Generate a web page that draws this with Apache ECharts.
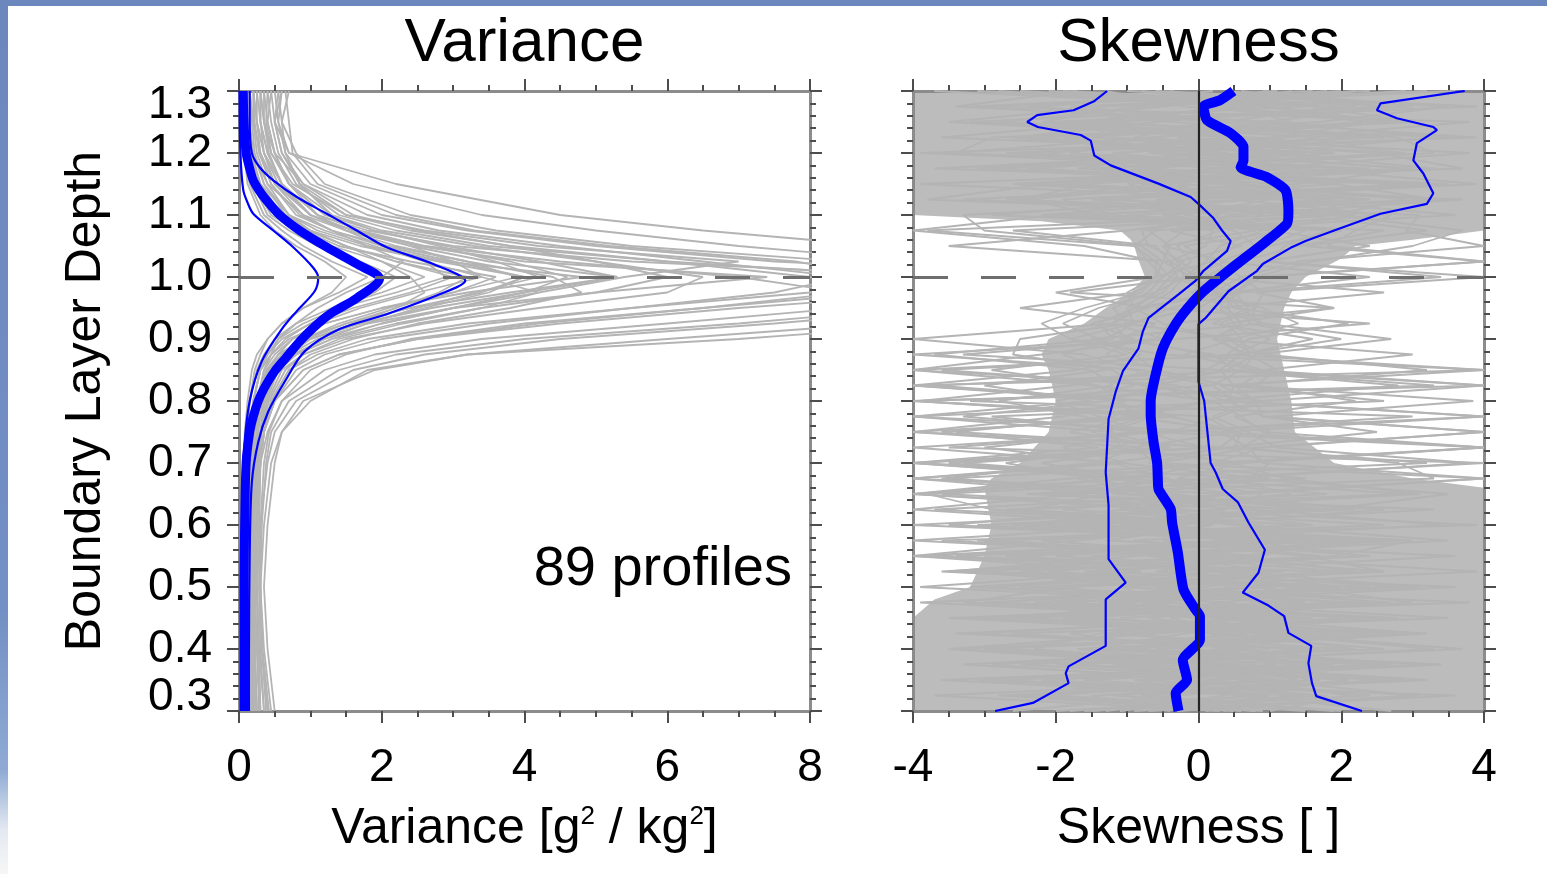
<!DOCTYPE html>
<html>
<head>
<meta charset="utf-8">
<title>Variance and skewness profiles</title>
<script src="https://cdn.jsdelivr.net/npm/echarts@6/dist/echarts.min.js"></script>
<style>
  html, body { margin: 0; padding: 0; width: 1547px; height: 874px; overflow: hidden; }
  body { position: relative; background: linear-gradient(to bottom, #6b87bd 0%, #7390c4 70%, #8eaad4 88%, #e4e9f1 95%, #f6f6f6 100%); }
  #paper { position: absolute; left: 8px; top: 6px; right: 0; bottom: 0; background: #fff; }
  #chart { position: absolute; left: 0; top: 0; width: 1547px; height: 874px; }
</style>
</head>
<body>
<div id="paper"></div>
<div id="chart"></div>
<script>
// ---- Variance panel ----
// gray profiles, sampled at these depths (z / zi)
const varDepth = [1.30, 1.25, 1.20, 1.15, 1.10, 1.075, 1.05, 1.025, 1.00, 0.975, 0.95,
                  0.925, 0.90, 0.875, 0.85, 0.80, 0.75, 0.70, 0.60, 0.50, 0.40, 0.30];
const varGrayProfiles = [
  [0.05, 0.05, 0.08, 0.15, 0.35, 0.6, 0.9, 1.3, 1.8, 1.4, 0.9, 0.6, 0.4, 0.3, 0.22, 0.15, 0.12, 0.1, 0.08, 0.08, 0.07, 0.07],
  [0.1, 0.12, 0.2, 0.4, 0.9, 1.5, 2.4, 3.5, 5.3, 3.8, 2.4, 1.5, 0.9, 0.6, 0.4, 0.25, 0.18, 0.15, 0.12, 0.1, 0.1, 0.1],
  [0.6, 0.5, 0.7, 1.6, 3.4, 5.0, 7.0, 9.5, 11, 9.0, 6.5, 4.0, 2.4, 1.5, 1.0, 0.6, 0.4, 0.3, 0.25, 0.2, 0.2, 0.2],
  [0.3, 0.35, 0.5, 0.9, 1.8, 2.8, 4.5, 6.5, 8.5, 7.5, 5.5, 3.5, 2.0, 1.2, 0.8, 0.5, 0.35, 0.3, 0.25, 0.22, 0.2, 0.2],
  [0.2, 0.2, 0.3, 0.5, 1.0, 1.6, 2.5, 4.0, 7.4, 5.0, 3.0, 1.8, 1.1, 0.7, 0.5, 0.35, 0.3, 0.25, 0.2, 0.2, 0.18, 0.18],
  [0.15, 0.2, 0.25, 0.4, 0.7, 1.0, 1.5, 2.2, 3.0, 2.4, 1.6, 1.0, 0.6, 0.4, 0.3, 0.2, 0.18, 0.15, 0.15, 0.13, 0.12, 0.12],
  [0.05, 0.06, 0.1, 0.2, 0.45, 0.8, 1.3, 2.0, 2.6, 2.0, 1.3, 0.8, 0.5, 0.35, 0.25, 0.15, 0.1, 0.08, 0.06, 0.05, 0.05, 0.05],
  [0.4, 0.45, 0.55, 0.8, 1.4, 2.2, 3.5, 6.0, 9.5, 12, 10, 7.5, 4.5, 2.6, 1.6, 0.8, 0.5, 0.4, 0.3, 0.28, 0.3, 0.35],
  [0.25, 0.3, 0.4, 0.6, 1.1, 1.8, 3.0, 5.5, 10, 13, 11, 9, 6, 3.2, 1.9, 0.9, 0.6, 0.45, 0.35, 0.3, 0.32, 0.4],
  [0.35, 0.4, 0.5, 0.7, 1.2, 1.9, 2.9, 4.2, 5.3, 4.0, 2.7, 1.7, 1.0, 0.7, 0.5, 0.35, 0.3, 0.28, 0.25, 0.25, 0.28, 0.3],
  [0.1, 0.1, 0.15, 0.3, 0.6, 1.0, 1.7, 2.8, 4.0, 3.5, 2.6, 1.7, 1.0, 0.6, 0.4, 0.25, 0.2, 0.15, 0.12, 0.12, 0.12, 0.12],
  [0.7, 0.6, 0.8, 1.2, 2.4, 3.6, 5.5, 8.5, 10, 8.0, 5.5, 3.2, 1.8, 1.1, 0.7, 0.45, 0.35, 0.3, 0.28, 0.3, 0.35, 0.45],
  [0.45, 0.5, 0.6, 0.9, 1.6, 2.5, 3.8, 5.0, 6.5, 6.0, 4.2, 2.6, 1.5, 0.9, 0.6, 0.4, 0.3, 0.25, 0.2, 0.2, 0.22, 0.25],
  [0.2, 0.25, 0.35, 0.6, 1.1, 1.7, 2.6, 3.8, 4.6, 4.0, 3.0, 2.0, 1.3, 0.8, 0.55, 0.35, 0.25, 0.2, 0.18, 0.16, 0.15, 0.15],
  [0.08, 0.1, 0.12, 0.25, 0.5, 0.9, 1.4, 2.4, 3.6, 3.0, 2.0, 1.2, 0.7, 0.45, 0.3, 0.2, 0.15, 0.12, 0.1, 0.1, 0.1, 0.1],
  [0.5, 0.55, 0.65, 1.0, 2.0, 3.2, 5.0, 7.5, 12, 14, 12, 10, 7, 3.2, 1.8, 1.0, 0.6, 0.5, 0.4, 0.35, 0.4, 0.5],
  [0.3, 0.3, 0.4, 0.6, 1.0, 1.5, 2.2, 3.2, 4.4, 4.8, 3.8, 2.5, 1.6, 1.0, 0.7, 0.45, 0.35, 0.3, 0.28, 0.26, 0.25, 0.28],
  [0.15, 0.15, 0.2, 0.35, 0.7, 1.1, 1.8, 2.9, 4.8, 3.2, 2.0, 1.2, 0.75, 0.5, 0.35, 0.25, 0.2, 0.18, 0.15, 0.14, 0.14, 0.14],
  [0.25, 0.25, 0.35, 0.55, 1.0, 1.6, 2.6, 4.5, 7.0, 8.5, 6.5, 4.2, 2.5, 1.4, 0.9, 0.5, 0.35, 0.3, 0.25, 0.22, 0.22, 0.25],
  [0.55, 0.5, 0.6, 0.85, 1.5, 2.4, 3.8, 6.0, 8.0, 9.5, 8.5, 6.0, 3.4, 1.9, 1.2, 0.6, 0.42, 0.35, 0.3, 0.3, 0.32, 0.38],
  [0.12, 0.12, 0.18, 0.3, 0.6, 0.95, 1.5, 2.2, 3.2, 2.8, 2.2, 1.5, 0.9, 0.55, 0.38, 0.25, 0.2, 0.17, 0.15, 0.14, 0.13, 0.13],
  [0.4, 0.38, 0.45, 0.7, 1.3, 2.0, 3.3, 5.0, 6.0, 5.0, 3.4, 2.2, 1.3, 0.8, 0.55, 0.38, 0.3, 0.27, 0.24, 0.22, 0.22, 0.24],
  [0.05, 0.05, 0.07, 0.12, 0.3, 0.5, 0.8, 1.2, 1.5, 1.3, 0.9, 0.6, 0.4, 0.25, 0.18, 0.12, 0.08, 0.07, 0.06, 0.06, 0.06, 0.06],
  [0.65, 0.7, 0.75, 1.1, 2.2, 3.3, 5.2, 7.8, 9.0, 10.5, 9.5, 7.0, 4.0, 2.2, 1.4, 0.7, 0.45, 0.38, 0.32, 0.3, 0.33, 0.42],
  [0.3, 0.35, 0.45, 0.75, 1.5, 2.6, 4.2, 7.0, 5.4, 4.2, 3.0, 2.0, 1.2, 0.75, 0.5, 0.33, 0.27, 0.24, 0.22, 0.2, 0.2, 0.22],
  [0.2, 0.22, 0.28, 0.45, 0.85, 1.3, 2.0, 3.0, 4.0, 3.4, 2.4, 1.5, 0.95, 0.6, 0.42, 0.28, 0.22, 0.2, 0.18, 0.17, 0.17, 0.18],
  [0.6, 0.55, 0.7, 2.2, 4.5, 6.5, 9.0, 11, 12, 10, 7.0, 4.5, 2.5, 1.4, 0.9, 0.5, 0.35, 0.3, 0.25, 0.22, 0.25, 0.3],
  [0.1, 0.1, 0.15, 0.3, 0.7, 1.2, 1.9, 2.6, 2.9, 2.2, 1.4, 0.9, 0.55, 0.4, 0.3, 0.2, 0.15, 0.12, 0.1, 0.1, 0.1, 0.1],
  [0.3, 0.3, 0.35, 0.5, 0.9, 1.3, 1.8, 2.3, 2.0, 1.5, 1.1, 0.8, 0.55, 0.45, 0.35, 0.28, 0.25, 0.22, 0.2, 0.2, 0.2, 0.2],
  [0.2, 0.25, 0.3, 0.45, 0.8, 1.3, 2.1, 3.2, 3.9, 3.0, 2.1, 1.4, 0.9, 0.6, 0.45, 0.3, 0.25, 0.2, 0.18, 0.18, 0.18, 0.2],
  [0.45, 0.4, 0.5, 0.7, 1.1, 1.5, 2.0, 2.6, 3.4, 4.2, 3.4, 2.3, 1.4, 0.9, 0.65, 0.42, 0.32, 0.28, 0.25, 0.25, 0.27, 0.3],
  [0.08, 0.08, 0.1, 0.2, 0.4, 0.7, 1.1, 1.7, 2.2, 1.9, 1.4, 1.0, 0.65, 0.45, 0.3, 0.2, 0.14, 0.11, 0.1, 0.09, 0.09, 0.09],
  [0.55, 0.6, 0.65, 0.85, 1.3, 1.9, 2.8, 3.6, 4.2, 3.3, 2.5, 1.8, 1.2, 0.8, 0.55, 0.38, 0.3, 0.26, 0.24, 0.25, 0.28, 0.35],
  [0.15, 0.18, 0.22, 0.35, 0.65, 1.0, 1.5, 2.0, 2.4, 2.6, 2.2, 1.6, 1.0, 0.65, 0.45, 0.3, 0.22, 0.18, 0.15, 0.14, 0.14, 0.15],
  [0.35, 0.35, 0.42, 0.6, 1.0, 1.6, 2.4, 3.0, 3.4, 2.5, 1.7, 1.1, 0.75, 0.55, 0.42, 0.3, 0.25, 0.22, 0.2, 0.2, 0.22, 0.25]
];

// blue curves: mean (thick) and spread (thin)
const varMeanDepth = [1.30, 1.25, 1.20, 1.175, 1.156, 1.14, 1.123, 1.10, 1.075, 1.048, 1.021, 0.997, 0.966,
                      0.94, 0.918, 0.896, 0.87, 0.848, 0.82, 0.80, 0.775, 0.75, 0.70, 0.60, 0.50, 0.40, 0.30];
const varMean = [0.06, 0.07, 0.10, 0.15, 0.2, 0.28, 0.39, 0.57, 0.85, 1.23, 1.65, 1.97, 1.65,
                 1.27, 1.04, 0.85, 0.66, 0.5, 0.35, 0.27, 0.2, 0.15, 0.1, 0.08, 0.07, 0.07, 0.07];
const varHighDepth = [1.30, 1.25, 1.20, 1.177, 1.156, 1.129, 1.102, 1.075, 1.048, 1.021, 0.994,
                      0.972, 0.94, 0.916, 0.88, 0.831, 0.783, 0.734, 0.669, 0.556, 0.40, 0.30];
const varHigh = [0.15, 0.15, 0.18, 0.29, 0.48, 0.81, 1.23, 1.65, 2.07, 2.72, 3.17,
                 2.81, 2.07, 1.41, 0.92, 0.64, 0.41, 0.27, 0.18, 0.15, 0.14, 0.14];
const varLowDepth = [1.30, 1.20, 1.14, 1.12, 1.102, 1.075, 1.048, 1.015, 0.999, 0.977, 0.945,
                     0.916, 0.864, 0.80, 0.718, 0.60, 0.45, 0.30];
const varLow = [0.01, 0.02, 0.06, 0.12, 0.2, 0.48, 0.76, 1.04, 1.11, 1.06, 0.81,
                0.6, 0.32, 0.15, 0.07, 0.04, 0.03, 0.03];

// ---- Skewness panel ----
// dense gray band (where the 89 profiles overlap into a solid mass)
const skEnvDepth = [1.30, 1.10, 1.09, 1.075, 1.06, 1.05, 1.03, 1.00, 0.975, 0.95, 0.925, 0.90, 0.875,
                    0.85, 0.80, 0.75, 0.70, 0.675, 0.66, 0.60, 0.55, 0.50, 0.48, 0.45, 0.30];
const skEnvLeft = [-4, -4, -2.2, -1.1, -0.95, -0.9, -0.85, -0.75, -0.95, -1.3, -1.6, -2.1, -2.2,
                   -2.1, -2.0, -2.1, -2.5, -2.9, -3.0, -2.9, -3.0, -3.2, -3.7, -4, -4];
const skEnvRight = [4, 4, 4, 4, 3.0, 2.2, 2.0, 1.5, 1.3, 1.2, 1.15, 1.1, 1.15,
                    1.2, 1.3, 1.35, 1.9, 3.0, 4, 4, 4, 4, 4, 4, 4];

// individual gray profiles reaching out of the band
const skDepth = [1.30, 1.275, 1.25, 1.225, 1.20, 1.175, 1.15, 1.125, 1.10, 1.075,
                 1.05, 1.025, 1.00, 0.975, 0.95, 0.925, 0.90, 0.875, 0.85, 0.825,
                 0.80, 0.775, 0.75, 0.725, 0.70, 0.675, 0.65, 0.625, 0.60, 0.575,
                 0.55, 0.525, 0.50, 0.475, 0.45, 0.425, 0.40, 0.375, 0.35, 0.325, 0.30];
const skGrayProfiles = [
  [-2.5, 1.5, -3.2, 0.8, 2.9, -1.4, 3.5, -0.6, 1.2, -3.8,
   -0.9, -0.6, -0.4, 0.3, -0.8, -1.2, -0.5, -2.2, -4.0, -1.5,
   0.2, -0.9, -1.8, -0.4, -3.5, -1.2, 0.5, -1.9, 1.4, -3.1,
   0.9, -0.6, 2.8, -2.0, 0.3, 3.1, -1.4, 1.8, -3.6, 0.7, -1.1],
  [3.2, -1.8, 0.6, 3.9, -2.7, 1.1, -0.3, 2.4, -1.6, 1.8,
   1.2, 1.0, 3.4, 0.6, 0.2, 0.9, 2.7, 0.8, 0.4, -0.6,
   0.1, -1.0, 0.6, 0.3, -0.7, 1.5, -2.4, 3.3, -0.8, 2.1,
   -3.4, 1.2, -1.1, 3.8, -2.6, 0.4, 2.2, -1.7, 0.9, 3.0, -0.3],
  [0.4, 2.6, -1.1, -3.6, 1.9, 0.2, -2.3, 3.7, 0.5, -0.8,
   -0.7, -0.2, -0.5, -0.9, -2.5, -0.6, -1.1, 0.2, 0.5, 4.0,
   0.9, 0.3, -0.4, -1.2, 0.6, -0.3, 2.9, -2.7, 0.2, -1.3,
   3.6, -0.4, 1.0, -3.9, 0.6, -1.8, -0.2, 2.5, -2.2, 1.3, 0.1],
  [-1.0, 3.5, 1.7, -2.2, -0.4, 3.0, 1.4, -3.3, 2.2, 0.9,
   0.3, 0.1, -0.2, -0.4, -0.8, -1.2, -4.0, -1.6, -0.9, -0.4,
   -1.3, -3.3, -0.6, 4.0, 0.2, -1.7, -0.6, 1.6, -2.4, 2.7,
   -0.9, -3.5, 1.9, 0.4, -1.5, 2.3, -3.0, 0.5, 1.6, -0.8, 2.0],
  [1.8, -0.5, -2.8, 2.1, 0.7, -3.7, 2.8, 0.0, -2.9, 2.6,
   1.4, 0.6, 0.2, -0.1, 0.4, 0.6, 0.2, 3.0, 0.9, 0.6,
   3.85, 1.0, 4.0, 0.8, -0.6, 0.3, -3.6, 0.8, 3.4, -0.9,
   1.5, 2.6, -1.9, -0.5, 3.5, -2.6, 0.8, -3.3, 0.4, -2.0, 1.5],
  [-3.7, 0.9, 2.3, -0.7, -1.8, 1.6, -3.9, 1.1, 3.6, -0.2,
   -0.5, -0.3, -0.2, -0.6, -1.4, -1.9, -1.4, -0.8, -1.7, -4.0,
   -1.0, -1.9, -4.0, -0.8, -1.5, -3.6, -0.9, 0.4, -1.0, 1.9,
   -2.5, 0.3, -3.2, 1.4, -0.7, 0.9, 3.7, -1.2, -0.3, 2.4, -1.6],
  [2.4, -3.0, 3.8, 1.2, -1.1, -2.2, 0.6, 2.9, 1.9, 3.7,
   3.0, 1.6, 0.8, 0.3, 0.5, 2.1, 0.7, 0.4, 4.0, 0.3,
   0.8, 0.2, 0.7, 1.1, 3.8, 0.4, 1.3, -1.1, 2.6, -2.8,
   0.2, 3.9, -0.6, 2.0, -2.9, 1.6, -1.3, 3.4, -0.9, 0.6, 2.7],
  [0.2, -2.2, -0.4, 2.8, 3.3, -0.9, -1.5, -2.5, 0.7, -1.0,
   -3.5, -0.4, -0.3, -0.5, -1.0, -0.9, -1.3, -3.7, -1.5, -1.2,
   -2.8, -1.6, -0.9, -3.0, -1.2, -0.4, -1.6, -4.0, -0.5, 0.8,
   -3.8, 1.7, 0.1, -2.8, 2.3, -0.6, -3.5, -0.2, 3.2, -1.5, -0.4],
  [-0.6, 3.9, -1.6, -1.2, 2.5, 3.7, -2.6, 1.9, -0.5, 0.5,
   0.8, 0.5, 0.1, 2.6, 0.3, 0.5, 0.4, 0.8, 0.6, 0.2,
   0.5, 4.0, 0.3, 0.7, 0.9, 4.0, 0.2, 2.2, -3.1, 0.6,
   2.3, -1.5, 3.6, -0.8, 1.2, -3.4, 1.4, -0.7, 2.9, -2.7, 0.8],
  [1.3, 0.1, 3.0, -2.9, -3.4, 0.4, 2.0, -1.9, -1.2, 1.2,
   -0.2, 0.2, -0.6, -2.0, -0.7, -1.5, -0.9, -1.3, -0.5, -1.8,
   -3.9, -0.7, -1.5, -0.6, -2.2, -1.0, -4.0, -0.5, 3.9, -3.6,
   0.7, -2.1, 1.3, 3.0, -1.1, 0.1, 2.6, -2.5, 1.1, -3.7, 0.3],
  [-2.1, 2.0, 0.3, -1.5, 1.5, -2.9, 3.2, -1.3, 2.7, 2.2,
   1.8, 4.0, 0.9, 0.5, 0.7, 0.2, 1.6, 0.6, 0.3, 2.8,
   0.2, 0.6, 0.9, 4.0, 0.5, 1.2, 3.1, -1.0, 0.5, 3.5,
   -0.7, 2.0, -2.3, 1.1, -3.2, 2.8, -0.6, 1.9, -3.1, 3.6, -0.7],
  [3.6, -1.3, -3.5, 0.5, -2.5, 2.4, -0.8, 0.6, -3.3, -3.0,
   -0.8, -0.5, -0.6, -0.8, -1.6, -2.2, -1.8, -1.0, -2.9, -1.4,
   -1.1, -0.9, -3.6, -1.4, -4.0, -0.8, -1.7, -0.3, -2.6, 1.0,
   -1.4, -3.0, 2.4, -1.2, 0.9, -3.1, 1.7, -2.0, 2.1, -0.3, -2.6],
  [0.9, 3.0, -2.1, 1.7, -0.1, -1.7, 1.9, 3.3, -1.9, 1.0,
   2.4, 0.9, 4.0, 0.8, 1.9, 0.4, 0.6, 0.7, 1.1, 0.8,
   2.2, 0.5, 1.0, 0.6, 2.8, 3.3, -2.2, 1.4, -1.6, 2.4,
   0.6, -3.4, 1.8, -1.9, 2.6, -0.8, 0.5, 2.7, -1.6, 1.8, -2.0],
  [-1.7, -3.4, 1.1, 3.3, 0.9, -0.6, -2.1, -3.8, 1.8, -0.6,
   -0.9, -0.7, -0.5, -0.7, -1.2, -1.0, -2.5, -2.6, -1.2, -0.9,
   -2.0, -1.4, -0.8, -1.9, -1.0, -4.0, -1.3, -2.4, 0.2, -1.7,
   -4.0, -0.8, -3.9, 0.5, -2.4, 1.9, -1.0, 3.3, -2.9, 0.9, -1.8],
  [-3.1, 1.0, 2.7, -0.3, 3.8, 0.8, -0.5, -2.7, 3.1, 2.9,
   4.0, 1.4, 0.6, 0.2, 0.9, 1.4, 0.5, 0.9, 3.2, 0.5,
   0.8, 0.9, 2.5, 0.4, 1.0, 0.7, 3.5, 1.8, -1.9, 3.0,
   1.9, -2.5, 0.8, 2.4, -3.5, 0.8, 3.3, -1.1, 0.6, 2.1, 1.0],
  [2.0, -0.8, -1.4, 2.6, -3.9, 1.4, 3.9, -0.4, -2.0, -4.0,
   -1.6, -0.6, -0.6, -1.0, -0.9, -1.4, -1.2, -1.9, -1.3, -3.0,
   -1.5, -4.0, -1.2, -1.1, -2.7, -1.5, -0.4, -1.0, -3.5, 1.4,
   -0.3, 2.6, -1.8, -3.3, 1.6, -1.4, -2.3, 0.2, 1.4, -2.8, 0.5],
  [1.1, -2.4, 0.3, 2.2, -1.2, 0.9, -2.6, 1.7, -0.4, 0.8,
   -0.5, 0.4, -0.2, 0.1, -0.6, 2.4, -0.3, -4.0, -0.8, 0.2,
   -3.2, 3.0, -0.5, -4.0, -1.1, 0.9, -2.2, 1.3, -0.8, 2.9,
   -1.5, 0.4, 3.1, -2.0, 0.7, -1.3, 2.0, -0.9, 1.2, -2.4, 0.6],
  [-0.8, 1.6, 3.0, -1.9, 0.4, -3.1, 1.2, 0.5, 2.6, -0.4,
   0.6, -0.3, 0.2, 0.6, -0.4, -0.9, -1.8, -0.5, 4.0, -4.0,
   -0.7, -1.2, -3.4, 0.3, -4.0, -1.0, 1.8, -2.6, 0.9, -0.5,
   2.4, -3.3, -0.4, 1.5, -1.8, 3.2, -0.6, 0.8, -2.1, 1.0, -0.3],
  [2.9, -0.9, -2.2, 0.6, 1.9, -1.5, 0.2, 3.4, -1.0, 2.0,
   1.0, 0.6, 0.4, 0.2, 0.8, 0.3, 1.0, 0.5, 0.1, -0.8,
   0.9, -4.0, 0.2, 4.0, 0.6, -3.5, -0.3, 0.9, -1.4, 2.2,
   -0.6, 1.1, -2.9, 0.3, 2.0, -1.0, -2.7, 1.4, 0.2, -1.2, 1.9],
  [-2.8, 0.5, 1.3, -0.6, -3.5, 2.1, -1.0, -0.2, 0.9, 0.3,
   -0.3, -0.1, -0.4, -0.6, -0.9, -0.5, 0.3, 0.6, -3.6, -0.6,
   -1.3, -0.3, -4.0, 0.4, 3.2, -1.8, -4.0, -0.2, 1.6, -2.2,
   0.5, 2.2, -1.1, -0.4, -2.6, 1.2, 0.3, -1.8, 2.6, -0.7, 0.4],
  [0.6, 2.2, -0.6, -2.6, 0.1, 2.9, -1.7, 1.0, -0.2, 1.5,
   0.9, 0.3, 2.4, 0.4, 0.0, -1.0, 0.5, -0.2, 0.8, 4.0,
   -4.0, 0.1, 0.5, -0.9, -0.6, 4.0, 0.6, -3.7, 0.8, -0.4,
   1.7, -1.6, 0.6, -2.3, 1.3, -0.2, -1.5, 2.3, -0.6, 0.4, -1.3],
  [-1.3, -0.2, 2.5, 1.0, -2.1, -0.7, 3.1, -1.5, 0.3, -0.7,
   -0.4, -0.5, -0.1, 0.3, 0.6, 0.9, -1.5, -0.9, -0.6, 0.4,
   2.6, -2.9, -0.8, 0.1, -3.3, -0.5, 0.9, 0.3, -4.0, 1.3,
   -2.0, 0.7, 1.1, -3.0, 0.2, 2.4, -1.7, 0.6, -0.8, 3.1, -0.9],
  [1.6, -3.2, 0.2, -0.9, 2.7, 0.4, -1.9, 2.3, 1.4, 3.2,
   1.5, 4.0, 0.8, 0.5, 0.4, 0.6, 0.2, 0.7, -4.0, -0.3,
   0.4, 4.0, -0.6, -3.5, 4.0, 0.1, -1.2, 2.6, -0.3, 0.9,
   -2.7, 0.2, 2.0, -1.0, -0.1, 1.4, -3.4, 0.3, 1.7, -1.1, 0.8],
  [-0.4, 0.8, -1.8, 3.6, -0.7, 1.5, 0.1, -2.4, -1.4, 0.2,
   0.1, -0.4, 0.0, -1.8, 1.9, -0.4, -0.6, -3.3, 0.3, 3.3,
   -4.0, -0.4, 0.6, 0.5, -1.3, -4.0, 0.4, -0.7, -2.1, 1.6,
   0.9, -1.2, -2.5, 2.2, -0.4, 0.6, 1.0, -2.9, -0.1, 1.5, -1.5],
  [2.2, 0.3, -1.0, -2.4, 1.0, 3.3, -0.5, 0.8, -2.2, 1.1,
   0.5, 0.2, 0.6, 0.9, 0.8, 0.7, 2.0, 0.6, 0.3, 0.5,
   0.4, 0.9, 4.0, 0.9, 0.2, -0.9, -3.8, -2.9, -0.4, -4.0,
   0.3, -3.6, 0.9, -1.4, 2.8, -0.9, 0.4, 1.1, -2.7, 0.8, 0.2],
  [-1.9, 2.7, 0.9, -0.3, 1.3, -2.4, 0.7, -1.1, 2.0, -2.6,
   -0.6, -0.4, -0.3, 0.5, -0.9, -1.2, -1.0, 0.1, 0.9, -3.7,
   -0.8, -0.6, -1.3, -0.4, -4.0, 1.0, -0.9, 1.9, -1.1, 0.5,
   -4.0, 0.8, -0.6, 2.7, -1.9, 0.4, -0.8, 1.6, 0.4, -2.2, 0.9]
];

const skMeanDepth = [1.30, 1.285, 1.275, 1.253, 1.232, 1.21, 1.188, 1.177, 1.161, 1.14, 1.107, 1.086,
                     1.054, 1.021, 0.977, 0.95, 0.924, 0.885, 0.843, 0.80, 0.778, 0.734, 0.70, 0.674,
                     0.658, 0.626, 0.604, 0.556, 0.496, 0.465, 0.453, 0.415, 0.382, 0.35, 0.329, 0.30];
const skMean = [0.49, 0.3, 0.07, 0.12, 0.45, 0.63, 0.63, 0.59, 0.96, 1.22, 1.26, 1.24,
                0.91, 0.54, 0.07, -0.15, -0.32, -0.5, -0.6, -0.67, -0.67, -0.63, -0.58, -0.57,
                -0.56, -0.39, -0.37, -0.29, -0.21, -0.05, 0.02, 0.02, -0.22, -0.16, -0.32, -0.28];
const skLowDepth = [1.30, 1.283, 1.269, 1.261, 1.25, 1.242, 1.229, 1.22, 1.196, 1.18, 1.151, 1.129,
                    1.118, 1.096, 1.075, 1.058, 1.042, 1.01, 0.994, 0.972, 0.934, 0.912, 0.885, 0.848,
                    0.815, 0.771, 0.685, 0.632, 0.545, 0.507, 0.48, 0.405, 0.372, 0.361, 0.345, 0.313, 0.30];
const skLow = [-1.28, -1.47, -1.75, -2.26, -2.4, -2.25, -1.65, -1.51, -1.46, -1.23, -0.57, -0.11,
               0.0, 0.2, 0.33, 0.45, 0.4, 0.07, -0.04, -0.28, -0.7, -0.78, -0.84, -1.06,
               -1.16, -1.26, -1.3, -1.26, -1.26, -1.02, -1.3, -1.3, -1.82, -1.86, -1.82, -2.32, -2.85];
const skHighDepth = [1.30, 1.28, 1.269, 1.256, 1.242, 1.237, 1.216, 1.188, 1.167, 1.135, 1.118, 1.102,
                     1.075, 1.058, 1.047, 1.021, 1.01, 0.977, 0.934, 0.924, 0.831, 0.80, 0.70, 0.685,
                     0.658, 0.637, 0.604, 0.56, 0.523, 0.491, 0.47, 0.453, 0.426, 0.405, 0.377, 0.345,
                     0.324, 0.30];
const skHigh = [3.73, 2.55, 2.5, 2.78, 3.29, 3.34, 3.06, 3.01, 3.15, 3.29, 3.2, 2.55,
                1.9, 1.5, 1.29, 0.9, 0.82, 0.42, 0.1, 0.0, 0.0, 0.08, 0.17, 0.24,
                0.34, 0.55, 0.7, 0.93, 0.84, 0.62, 0.98, 1.2, 1.26, 1.58, 1.54, 1.59,
                1.65, 2.29];

const profileCount = 89;

// ---- styling ----
const FONT = 'Liberation Sans, Arial, Helvetica, sans-serif';
const GRAY = '#b4b4b4';
const BAND = '#bcbcbc';
const BLUE = '#0000ff';

function pairs(xs, ds) {
  return xs.map((x, i) => [x, ds[i]]);
}

const axisLine = { show: true, onZero: false, lineStyle: { color: '#8c8c8c', width: 3 } };
const tickStyle = { color: '#4d4d4d', width: 2 };

function xAxisFor(gridIndex, min, max, position, withLabels, name) {
  return {
    type: 'value', gridIndex, position, min, max, interval: 2,
    axisLine,
    axisTick: { show: true, inside: false, length: 12, lineStyle: tickStyle },
    minorTick: { show: true, splitNumber: 4, length: 6, lineStyle: tickStyle },
    splitLine: { show: false },
    axisLabel: { show: withLabels, fontSize: 46, color: '#000', fontFamily: FONT, margin: 34,
                 interval: 0, showMinLabel: true, showMaxLabel: true },
    name: name || '',
    nameLocation: 'middle',
    nameGap: 93,
    nameTextStyle: {
      fontSize: 50, color: '#000', fontFamily: FONT,
      rich: { sup: { fontSize: 26, color: '#000', fontFamily: FONT, verticalAlign: 'top', lineHeight: 50 } }
    }
  };
}

function yAxisFor(gridIndex, position, withLabels, name) {
  return {
    type: 'value', gridIndex, position, min: 0.3, max: 1.3, interval: 0.1,
    axisLine,
    axisTick: { show: true, inside: false, length: 12, lineStyle: tickStyle },
    minorTick: { show: true, splitNumber: 5, length: 6, lineStyle: tickStyle },
    splitLine: { show: false },
    axisLabel: {
      show: withLabels, fontSize: 46, lineHeight: 28, color: '#000', fontFamily: FONT, margin: 27,
      interval: 0, showMinLabel: true, showMaxLabel: true, hideOverlap: false,
      formatter: v => v.toFixed(1),
      verticalAlignMinLabel: 'bottom', verticalAlignMaxLabel: 'top'
    },
    name: name || '',
    nameLocation: 'middle',
    nameGap: 128,
    nameTextStyle: { fontSize: 50, color: '#000', fontFamily: FONT }
  };
}

const series = [];

// variance panel (axes 0)
varGrayProfiles.forEach(p => {
  series.push({
    type: 'line', xAxisIndex: 0, yAxisIndex: 0, data: pairs(p, varDepth),
    showSymbol: false, symbol: 'none', silent: true, z: 1,
    lineStyle: { color: GRAY, width: 1.8 }
  });
});
series.push({
  type: 'line', xAxisIndex: 0, yAxisIndex: 0, data: [[0, 1.0]],
  symbol: 'none', silent: true, z: 2, lineStyle: { opacity: 0 },
  markLine: {
    silent: true, symbol: 'none', label: { show: false },
    lineStyle: { color: '#6e6e6e', width: 3, type: [35, 33] },
    data: [{ yAxis: 1.0 }]
  }
});
series.push({
  type: 'line', xAxisIndex: 0, yAxisIndex: 0, data: pairs(varLow, varLowDepth),
  symbol: 'none', smooth: 0.3, z: 3, lineStyle: { color: BLUE, width: 2.2 }
});
series.push({
  type: 'line', xAxisIndex: 0, yAxisIndex: 0, data: pairs(varHigh, varHighDepth),
  symbol: 'none', smooth: 0.3, z: 3, lineStyle: { color: BLUE, width: 2.2 }
});
series.push({
  type: 'line', xAxisIndex: 0, yAxisIndex: 0, data: pairs(varMean, varMeanDepth),
  symbol: 'none', smooth: 0.3, z: 4, lineStyle: { color: BLUE, width: 9 }
});

// skewness panel (axes 2)
series.push({
  type: 'custom', xAxisIndex: 2, yAxisIndex: 2, silent: true, z: 0,
  data: [[0, 0.8]],
  renderItem: function (params, api) {
    const pts = [];
    for (let i = 0; i < skEnvDepth.length; i++) pts.push(api.coord([skEnvLeft[i], skEnvDepth[i]]));
    for (let i = skEnvDepth.length - 1; i >= 0; i--) pts.push(api.coord([skEnvRight[i], skEnvDepth[i]]));
    return { type: 'polygon', shape: { points: pts }, style: { fill: BAND } };
  }
});
skGrayProfiles.forEach(p => {
  series.push({
    type: 'line', xAxisIndex: 2, yAxisIndex: 2, data: pairs(p, skDepth),
    showSymbol: false, symbol: 'none', silent: true, z: 1,
    lineStyle: { color: GRAY, width: 1.8 }
  });
});
series.push({
  type: 'line', xAxisIndex: 2, yAxisIndex: 2, data: [[0, 1.0]],
  symbol: 'none', silent: true, z: 2, lineStyle: { opacity: 0 },
  markLine: {
    silent: true, symbol: 'none', label: { show: false },
    data: [
      { yAxis: 1.0, lineStyle: { color: '#6e6e6e', width: 3, type: [35, 33] } },
      { xAxis: 0, lineStyle: { color: '#222', width: 2.2, type: 'solid' } }
    ]
  }
});
series.push({
  type: 'line', xAxisIndex: 2, yAxisIndex: 2, data: pairs(skLow, skLowDepth),
  symbol: 'none', z: 3, lineStyle: { color: BLUE, width: 2.2 }
});
series.push({
  type: 'line', xAxisIndex: 2, yAxisIndex: 2, data: pairs(skHigh, skHighDepth),
  symbol: 'none', z: 3, lineStyle: { color: BLUE, width: 2.2 }
});
series.push({
  type: 'line', xAxisIndex: 2, yAxisIndex: 2, data: pairs(skMean, skMeanDepth),
  symbol: 'none', smooth: 0.2, z: 4, lineStyle: { color: BLUE, width: 10 }
});

const chart = echarts.init(document.getElementById('chart'), null, { renderer: 'canvas' });
chart.setOption({
  animation: false,
  backgroundColor: 'transparent',
  grid: [
    { left: 239, top: 91, width: 571, height: 620, containLabel: false },
    { left: 913, top: 91, width: 571, height: 620, containLabel: false }
  ],
  xAxis: [
    xAxisFor(0, 0, 8, 'bottom', true, 'Variance [g{sup|2} / kg{sup|2}]'),
    xAxisFor(0, 0, 8, 'top', false),
    xAxisFor(1, -4, 4, 'bottom', true, 'Skewness [ ]'),
    xAxisFor(1, -4, 4, 'top', false)
  ],
  yAxis: [
    yAxisFor(0, 'left', true, 'Boundary Layer Depth'),
    yAxisFor(0, 'right', false),
    yAxisFor(1, 'left', false),
    yAxisFor(1, 'right', false)
  ],
  graphic: [
    { type: 'text', x: 524.5, y: 44, silent: true,
      style: { text: 'Variance', font: '62px ' + FONT, fill: '#000', align: 'center', verticalAlign: 'middle' } },
    { type: 'text', x: 1198.5, y: 44, silent: true,
      style: { text: 'Skewness', font: '62px ' + FONT, fill: '#000', align: 'center', verticalAlign: 'middle' } },
    { type: 'text', x: 792, y: 570, silent: true,
      style: { text: profileCount + ' profiles', font: '56px ' + FONT, fill: '#000', align: 'right', verticalAlign: 'middle' } }
  ],
  series
});
</script>
</body>
</html>
